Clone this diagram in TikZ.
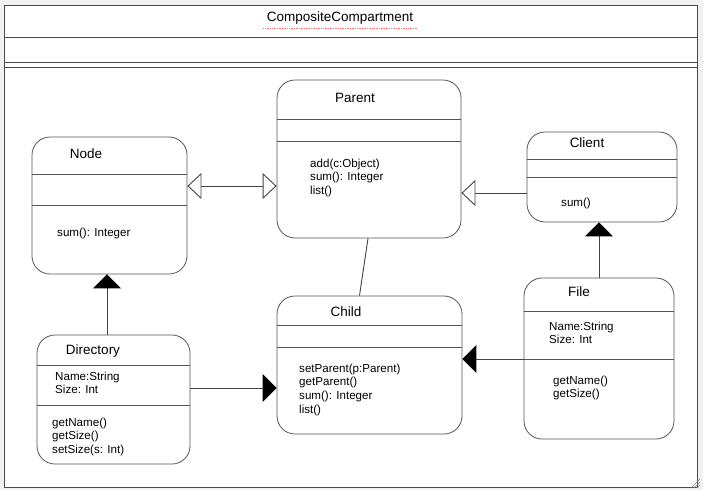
\documentclass[tikz,border=0pt]{standalone}
\usepackage{fontspec}
\setmainfont{Liberation Sans}
\usetikzlibrary{arrows.meta}

\begin{document}
\begin{tikzpicture}[x=1pt, y=-1pt,
    box/.style={draw=borderColour, line width=0.8pt, rounded corners=18pt, inner sep=0pt},
    divider/.style={draw=borderColour, line width=0.8pt},
    classname/.style={font=\fontsize{13.5}{16}\selectfont},
    members/.style={font=\fontsize{11.6}{13.8}\selectfont, align=left, anchor=north west, inner sep=0pt},
    genarrow/.style={draw=lineColour, line width=0.9pt},
    opentip/.tip={Triangle[open, length=14pt, width=26pt, fill=white]},
    solidtip/.tip={Triangle[length=14pt, width=28pt, color=black, fill=black]}]
    % Define colours
    \definecolor{borderColour}{HTML}{555555}
    \definecolor{lineColour}{HTML}{444444}
    \definecolor{frameColour}{HTML}{4A4A4A}
    \definecolor{backColour}{HTML}{F1F1F1}

    % Background and outer frame
    \fill[backColour] (0,0) rectangle (703,490);
    \useasboundingbox (0,0) rectangle (703,490);
    \filldraw[fill=white, draw=frameColour, line width=0.9pt] (4,5) rectangle (697,487);
    \draw[frameColour, line width=0.9pt] (4,37) -- (697,37);
    \draw[frameColour, line width=0.9pt] (4,62) -- (697,62);
    \draw[frameColour, line width=0.9pt] (4,67) -- (697,67);
    \node[classname] (compartment) at (340,18) {CompositeCompartment};
    \draw[red!55, densely dotted, line width=0.7pt] ([yshift=-1pt]compartment.south west) -- ([yshift=-1pt]compartment.south east);

    % Resize grip
    \foreach \k in {3,6,9}
        \draw[gray, line width=0.6pt] (700-\k,488) -- (700,488-\k);

    % Class boxes
    \node[box, minimum width=155pt, minimum height=137pt] (node) at (109.5,205.5) {};
    \node[box, minimum width=184pt, minimum height=158pt] (parent) at (369,159) {};
    \node[box, minimum width=150pt, minimum height=90pt] (client) at (602,177) {};
    \node[box, minimum width=153pt, minimum height=129pt] (directory) at (113.5,399.5) {};
    \node[box, minimum width=185pt, minimum height=138pt] (child) at (369.5,365) {};
    \node[box, minimum width=150pt, minimum height=161pt] (file) at (599,358.5) {};

    % Compartment lines
    \draw[divider] (node.west |- 0,174) -- (node.east |- 0,174);
    \draw[divider] (node.west |- 0,205) -- (node.east |- 0,205);
    \draw[divider] (parent.west |- 0,119) -- (parent.east |- 0,119);
    \draw[divider] (parent.west |- 0,141) -- (parent.east |- 0,141);
    \draw[divider] (client.west |- 0,159) -- (client.east |- 0,159);
    \draw[divider] (client.west |- 0,177) -- (client.east |- 0,177);
    \draw[divider] (directory.west |- 0,365) -- (directory.east |- 0,365);
    \draw[divider] (directory.west |- 0,405) -- (directory.east |- 0,405);
    \draw[divider] (child.west |- 0,325) -- (child.east |- 0,325);
    \draw[divider] (child.west |- 0,347) -- (child.east |- 0,347);
    \draw[divider] (file.west |- 0,311) -- (file.east |- 0,311);
    \draw[divider] (file.west |- 0,359) -- (file.east |- 0,359);

    % Class names
    \node[classname] (nodeName) at (86,154) {Node};
    \node[classname] (parentName) at (355,98) {Parent};
    \node[classname] (clientName) at (587,143) {Client};
    \node[classname] (directoryName) at (93,351) {Directory};
    \node[classname] (childName) at (346,312) {Child};
    \node[classname] (fileName) at (579,292) {File};

    % Attributes and operations
    \node[members] (nodeOps) at (57,227.5) {sum(): Integer};
    \node[members] (parentOps) at (310,158.5) {add(c:Object)\\sum(): Integer\\list()};
    \node[members] (clientOps) at (561,197.5) {sum()};
    \node[members] (directoryAttr) at (55,371.5) {Name:String\\Size: Int};
    \node[members] (directoryOps) at (52,417.5) {getName()\\getSize()\\setSize(s: Int)};
    \node[members] (childOps) at (299,363.5) {setParent(p:Parent)\\getParent()\\sum(): Integer\\list()};
    \node[members] (fileAttr) at (549,321.5) {Name:String\\Size: Int};
    \node[members] (fileOps) at (553,375.5) {getName()\\getSize()};

    % Link heights
    \coordinate (nodeLink) at (0,186);
    \coordinate (clientLink) at (0,193);
    \coordinate (fileLink) at (0,359);
    \coordinate (dirLink) at (0,388);
    \coordinate (dirUp) at (107,0);

    % Connectors
    \draw[genarrow, opentip-opentip] (node.east |- nodeLink) -- (parent.west |- nodeLink);
    \draw[genarrow, -opentip] (client.west |- clientLink) -- (parent.east |- clientLink);
    \draw[genarrow] ([xshift=-1pt]parent.south) -- ([xshift=-10pt]child.north);
    \draw[genarrow, -solidtip] (file.west |- fileLink) -- (child.east |- fileLink);
    \draw[genarrow, -solidtip] (directory.east |- dirLink) -- (child.west |- dirLink);
    \draw[genarrow, -solidtip] (directory.north -| dirUp) -- (node.south -| dirUp);
    \draw[genarrow, -solidtip] (file.north) -- (file.north |- client.south);

\end{tikzpicture}
\end{document}
